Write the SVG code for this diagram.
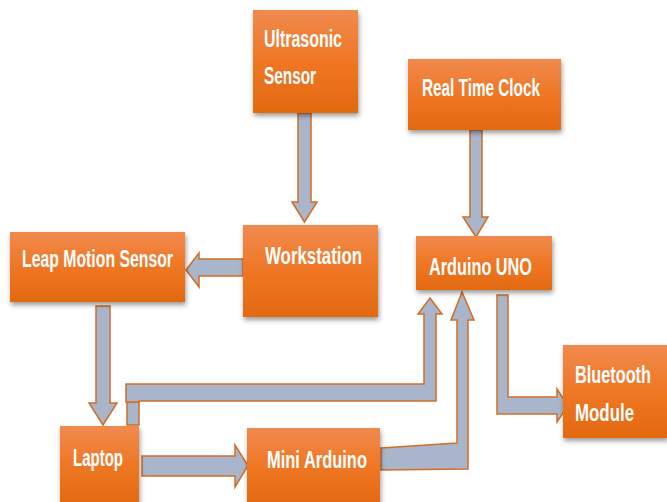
<svg xmlns="http://www.w3.org/2000/svg" width="667" height="502" viewBox="0 0 667 502">
<defs>
<linearGradient id="og" x1="0" y1="0" x2="0" y2="1">
<stop offset="0" stop-color="#F08A4E"/>
<stop offset="0.5" stop-color="#EF7725"/>
<stop offset="1" stop-color="#E2690F"/>
</linearGradient>
<filter id="sh" x="-10%" y="-10%" width="130%" height="140%">
<feDropShadow dx="1" dy="3" stdDeviation="2.5" flood-color="#000" flood-opacity="0.4"/>
</filter>
<style>
.box{fill:url(#og);filter:url(#sh);}
.t{fill:#fff;font-family:"Liberation Sans Narrow","Liberation Sans",Arial,sans-serif;font-size:23px;font-weight:bold;}
.ar{fill:#A9B5CA;stroke:#D36C24;stroke-width:1.5;stroke-linejoin:miter;}
</style>
</defs>
<g id="connectors">
<polygon class="ar" points="298,113 311,113 311,202 317,202 304.5,222 292,202 298,202"/>
<polygon class="ar" points="470,130 482,130 482,217 488,217 476,237 463,217 470,217"/>
<polygon class="ar" points="243,259 199,259 199,253 186,270 199,287 199,276 243,276"/>
<polygon class="ar" points="96,306 110,306 110,403 117,403 103,425 89,403 96,403"/>
<rect class="ar" x="127" y="402" width="12" height="23"/>
<polygon class="ar" points="126,384 424,384 424,314 418,314 430,298 442,314 436,314 436,401 139,401 139,402 126,402"/>
<polygon class="ar" points="381,448 457,443 457,320 451,320 462,292 474,320 468,320 468,469 381,470"/>
<polygon class="ar" points="497,295 508,295 508,397 557,397 557,389 568,405.5 557,422 557,414 497,414"/>
<polygon class="ar" points="142,456 235,456 235,445 248,465.5 235,487 235,476 142,476"/>
</g>
<g id="ultrasonic">
<rect class="box" x="253" y="10" width="105" height="103"/>
<text class="t" x="264" y="47" textLength="78" lengthAdjust="spacingAndGlyphs">Ultrasonic</text>
<text class="t" x="264" y="84" textLength="52" lengthAdjust="spacingAndGlyphs">Sensor</text>
</g>
<g id="rtc">
<rect class="box" x="408" y="59" width="153" height="71"/>
<text class="t" x="422" y="96" textLength="118" lengthAdjust="spacingAndGlyphs">Real Time Clock</text>
</g>
<g id="leap">
<rect class="box" x="10" y="232" width="175" height="70"/>
<text class="t" x="22" y="267" textLength="151" lengthAdjust="spacingAndGlyphs">Leap Motion Sensor</text>
</g>
<g id="workstation">
<rect class="box" x="243" y="225" width="135" height="92"/>
<text class="t" x="265" y="264" textLength="97" lengthAdjust="spacingAndGlyphs">Workstation</text>
</g>
<g id="arduino-uno">
<rect class="box" x="416" y="236" width="136" height="54"/>
<text class="t" x="429" y="275" textLength="103" lengthAdjust="spacingAndGlyphs">Arduino UNO</text>
</g>
<g id="laptop">
<rect class="box" x="60" y="426" width="79" height="80"/>
<text class="t" x="73" y="466" textLength="50" lengthAdjust="spacingAndGlyphs">Laptop</text>
</g>
<g id="mini-arduino">
<rect class="box" x="247" y="428" width="133" height="78"/>
<text class="t" x="267" y="468" textLength="100" lengthAdjust="spacingAndGlyphs">Mini Arduino</text>
</g>
<g id="bluetooth">
<rect class="box" x="563" y="345" width="104" height="93"/>
<text class="t" transform="translate(575,383) scale(0.72,1)" x="0" y="0" textLength="105.5" lengthAdjust="spacingAndGlyphs">Bluetooth</text>
<text class="t" transform="translate(575,421) scale(0.72,1)" x="0" y="0" textLength="82" lengthAdjust="spacingAndGlyphs">Module</text>
</g>
</svg>
